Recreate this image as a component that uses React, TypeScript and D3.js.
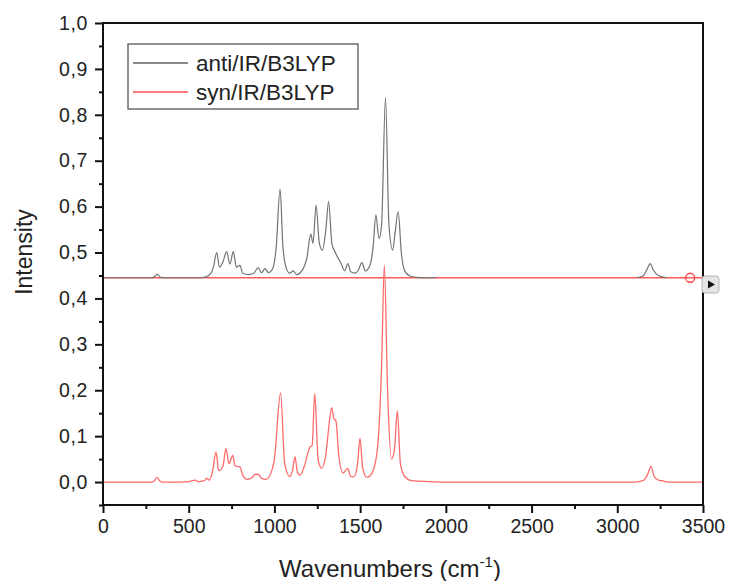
import React, { useEffect, useRef } from "react";
import * as d3 from "d3";

// anti/IR/B3LYP (offset trace)
const antiWavenumbers = [
  0, 280, 300, 317, 335, 360, 560, 600, 630, 645, 663, 680, 700, 721, 740, 760, 778, 799, 815, 850,
  880, 905, 925, 945, 965, 990, 1010, 1033, 1050, 1070, 1090, 1109, 1130, 1160, 1190, 1212, 1225,
  1243, 1262, 1280, 1300, 1316, 1335, 1355, 1368, 1390, 1410, 1428, 1445, 1470, 1490, 1510, 1530,
  1555, 1575, 1592, 1610, 1625, 1648, 1668, 1690, 1703, 1722, 1740, 1760, 1790, 1830, 1950, 2000,
  3110, 3150, 3175, 3192, 3210, 3240, 3290,
];
const antiIntensity: (number | null)[] = [
  0.445, 0.445, 0.447, 0.453, 0.446, 0.445, 0.445, 0.447, 0.455, 0.47, 0.5, 0.468, 0.48, 0.502, 0.475,
  0.502, 0.468, 0.472, 0.455, 0.452, 0.455, 0.467, 0.456, 0.465, 0.456, 0.465, 0.51, 0.638, 0.51,
  0.465, 0.455, 0.46, 0.452, 0.46, 0.49, 0.54, 0.52, 0.603, 0.52, 0.505, 0.55, 0.611, 0.52, 0.5,
  0.49, 0.475, 0.46, 0.476, 0.458, 0.455, 0.462, 0.478, 0.46, 0.47, 0.51, 0.582, 0.53, 0.56, 0.838,
  0.56, 0.505, 0.54, 0.589, 0.5, 0.46, 0.449, 0.446, 0.445, null,
  0.445, 0.449, 0.465, 0.476, 0.462, 0.45, 0.445,
];

// syn/IR/B3LYP
const synWavenumbers = [
  0, 280, 300, 315, 330, 350, 450, 500, 537, 555, 590, 605, 620, 640, 659, 675, 700, 717, 735, 757,
  770, 799, 815, 840, 870, 890, 905, 925, 950, 980, 1000, 1036, 1060, 1090, 1105, 1120, 1135, 1150,
  1175, 1207, 1220, 1235, 1255, 1275, 1300, 1320, 1334, 1345, 1359, 1375, 1400, 1428, 1445, 1465,
  1485, 1499, 1515, 1540, 1570, 1600, 1625, 1641, 1660, 1683, 1700, 1717, 1735, 1760, 1800, 1900,
  2000, 3100, 3150, 3175, 3197, 3215, 3240, 3260, 3300, 3500,
];
const synIntensity = [
  0, 0, 0.003, 0.01, 0.003, 0, 0, 0.001, 0.004, 0.001, 0.003, 0.008, 0.004, 0.025, 0.065, 0.025,
  0.035, 0.073, 0.04, 0.058, 0.035, 0.033, 0.015, 0.006, 0.01, 0.017, 0.017, 0.008, 0.006, 0.02,
  0.05, 0.194, 0.04, 0.012, 0.025, 0.055, 0.02, 0.015, 0.035, 0.076, 0.08, 0.193, 0.05, 0.03, 0.06,
  0.13, 0.162, 0.14, 0.133, 0.06, 0.02, 0.03, 0.012, 0.012, 0.04, 0.095, 0.03, 0.01, 0.02, 0.07,
  0.25, 0.473, 0.2, 0.05, 0.07, 0.155, 0.04, 0.012, 0.003, 0.001, 0, 0, 0.003, 0.015, 0.034, 0.012,
  0.004, 0.003, 0, 0,
];

const yTicks = [0, 0.1, 0.2, 0.3, 0.4, 0.5, 0.6, 0.7, 0.8, 0.9, 1.0];
const yMinorTicks = [-0.05, 0.05, 0.15, 0.25, 0.35, 0.45, 0.55, 0.65, 0.75, 0.85, 0.95];
const xTicks = [0, 500, 1000, 1500, 2000, 2500, 3000, 3500];
const xMinorTicks = [250, 750, 1250, 1750, 2250, 2750, 3250];
const baselineLevel = 0.445;
const baselineMarker = 3425;
const legendLabels = ["anti/IR/B3LYP", "syn/IR/B3LYP"];

const FONT = "'Liberation Sans', Arial, sans-serif";

export default function App() {
  const ref = useRef<SVGSVGElement>(null);

  useEffect(() => {
    const svg = d3.select(ref.current);
    svg.selectAll("*").remove();

    const left = 103, right = 703, top = 23, bottom = 505;
    const x = d3.scaleLinear().domain([0, 3500]).range([left, right]);
    const y = d3.scaleLinear().domain([-0.05, 1.0]).range([bottom, top]);

    const fmt = (d: number) => d3.format(".1f")(d).replace(".", ",");

    // reference line at the offset
    svg
      .append("line")
      .attr("x1", x(0))
      .attr("x2", x(3500))
      .attr("y1", y(baselineLevel))
      .attr("y2", y(baselineLevel))
      .attr("stroke", "#ff5a5a")
      .attr("stroke-width", 1.6);

    // syn trace
    const synLine = d3
      .line<number>()
      .x((_, i) => x(synWavenumbers[i]))
      .y((d) => y(d))
      .curve(d3.curveMonotoneX);
    svg
      .append("path")
      .attr("d", synLine(synIntensity))
      .attr("fill", "none")
      .attr("stroke", "#ff6b6b")
      .attr("stroke-width", 1.3)
      .attr("stroke-linejoin", "round");

    // anti trace
    const antiLine = d3
      .line<number | null>()
      .defined((d) => d !== null)
      .x((_, i) => x(antiWavenumbers[i]))
      .y((d) => y(d as number))
      .curve(d3.curveMonotoneX);
    svg
      .append("path")
      .attr("d", antiLine(antiIntensity))
      .attr("fill", "none")
      .attr("stroke", "#737373")
      .attr("stroke-width", 1.2)
      .attr("stroke-linejoin", "round");

    // marker circle on the reference line
    svg
      .append("circle")
      .attr("cx", x(baselineMarker))
      .attr("cy", y(baselineLevel))
      .attr("r", 4.5)
      .attr("fill", "none")
      .attr("stroke", "#ff3b3b")
      .attr("stroke-width", 1.3);

    // frame
    svg
      .append("rect")
      .attr("x", left)
      .attr("y", top)
      .attr("width", right - left)
      .attr("height", bottom - top)
      .attr("fill", "none")
      .attr("stroke", "#111")
      .attr("stroke-width", 2);

    // y axis
    const yAxis = svg.append("g").attr("transform", `translate(${left},0)`);
    yAxis.call(d3.axisLeft(y).tickValues(yTicks).tickSize(8).tickFormat((d) => fmt(d as number)));
    yAxis.append("g").call(d3.axisLeft(y).tickValues(yMinorTicks).tickSize(4).tickFormat(() => ""));
    yAxis.selectAll(".domain").remove();
    yAxis.selectAll("line").attr("stroke", "#111").attr("stroke-width", 2);
    yAxis
      .selectAll("text")
      .attr("font-family", FONT)
      .attr("font-size", 19.5)
      .attr("letter-spacing", 0.6)
      .attr("fill", "#222")
      .attr("x", -15);

    // x axis
    const xAxis = svg.append("g").attr("transform", `translate(0,${bottom})`);
    xAxis.call(d3.axisBottom(x).tickValues(xTicks).tickSize(8).tickFormat(d3.format("d")));
    xAxis.append("g").call(d3.axisBottom(x).tickValues(xMinorTicks).tickSize(4).tickFormat(() => ""));
    xAxis.selectAll(".domain").remove();
    xAxis.selectAll("line").attr("stroke", "#111").attr("stroke-width", 2);
    xAxis
      .selectAll("text")
      .attr("font-family", FONT)
      .attr("font-size", 19.5)
      .attr("fill", "#222")
      .attr("y", 14);

    // axis titles
    svg
      .append("text")
      .attr("transform", `translate(32,252) rotate(-90)`)
      .attr("text-anchor", "middle")
      .attr("font-family", FONT)
      .attr("font-size", 23)
      .attr("fill", "#222")
      .text("Intensity");

    const xt = svg
      .append("text")
      .attr("x", 390)
      .attr("y", 577)
      .attr("text-anchor", "middle")
      .attr("font-family", FONT)
      .attr("font-size", 24)
      .attr("fill", "#222");
    xt.append("tspan").text("Wavenumbers (cm");
    xt.append("tspan").attr("font-size", 15).attr("dy", -10).text("-1");
    xt.append("tspan").attr("dy", 10).text(")");

    // legend
    const lg = svg.append("g");
    lg.append("rect")
      .attr("x", 128)
      .attr("y", 44)
      .attr("width", 230)
      .attr("height", 65)
      .attr("fill", "white")
      .attr("stroke", "#555")
      .attr("stroke-width", 1.3);
    const colors = ["#8a8a8a", "#ff7b7b"];
    legendLabels.forEach((label, i) => {
      const ly = 63 + i * 29;
      lg.append("line")
        .attr("x1", 133)
        .attr("x2", 188)
        .attr("y1", ly)
        .attr("y2", ly)
        .attr("stroke", colors[i])
        .attr("stroke-width", 1.8);
      lg.append("text")
        .attr("x", 196)
        .attr("y", ly + 8)
        .attr("font-family", FONT)
        .attr("font-size", 22.5)
        .attr("fill", "#222")
        .text(label);
    });

    // small grey arrow button at the right edge
    const btn = svg.append("g");
    btn.append("rect")
      .attr("x", 702)
      .attr("y", 276)
      .attr("width", 17)
      .attr("height", 17)
      .attr("rx", 3)
      .attr("fill", "#e4e4e4")
      .attr("stroke", "#b5b5b5");
    btn.append("path").attr("d", "M708,280.5 L715,284.5 L708,288.5 Z").attr("fill", "#111");
  }, []);

  return (
    <svg
      ref={ref}
      width={729}
      height={581}
      style={{ position: "absolute", left: 0, top: 0, background: "white" }}
    />
  );
}
